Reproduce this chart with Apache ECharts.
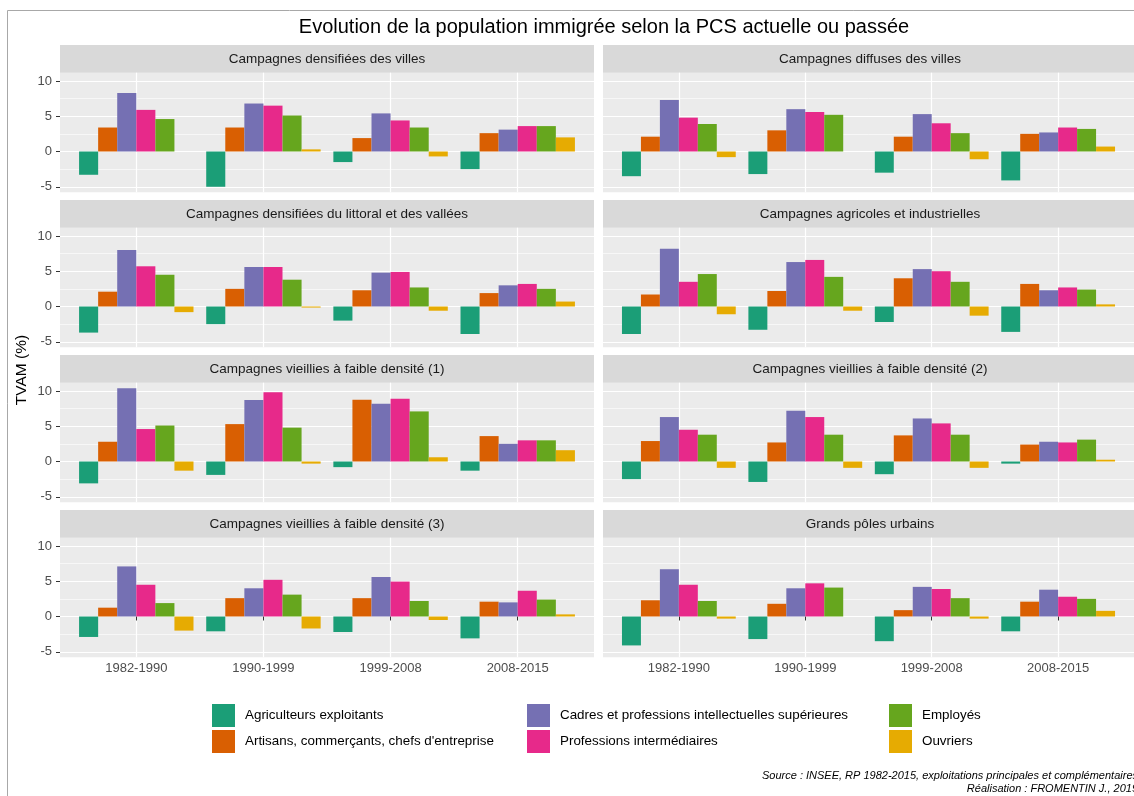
<!DOCTYPE html>
<html><head><meta charset="utf-8">
<script src="https://cdn.jsdelivr.net/npm/echarts@6/dist/echarts.min.js"></script>
<style>html,body{margin:0;padding:0;background:#fff}#c{width:1134px;height:796px}</style>
</head><body><div id="c"></div>
<script>
const periods = ['1982-1990', '1990-1999', '1999-2008', '2008-2015'];
const seriesNames = ['Agriculteurs exploitants', "Artisans, commerçants, chefs d'entreprise", 'Cadres et professions intellectuelles supérieures', 'Professions intermédiaires', 'Employés', 'Ouvriers'];
const colors = ['#1B9E77', '#D95F02', '#7570B3', '#E7298A', '#66A61E', '#E6AB02'];
const panelTitles = ['Campagnes densifiées des villes', 'Campagnes diffuses des villes', 'Campagnes densifiées du littoral et des vallées', 'Campagnes agricoles et industrielles', 'Campagnes vieillies à faible densité (1)', 'Campagnes vieillies à faible densité (2)', 'Campagnes vieillies à faible densité (3)', 'Grands pôles urbains'];
const yTicks = [-5, 0, 5, 10];
const yMinorTicks = [-2.5, 2.5, 7.5];
// each panel: one row per PCS (series order), one value per period
const densifieesVilles = [[-3.3, -5.0, -1.5, -2.5], [3.4, 3.4, 1.9, 2.6], [8.3, 6.8, 5.4, 3.1], [5.9, 6.5, 4.4, 3.6], [4.6, 5.1, 3.4, 3.6], [0.0, 0.3, -0.7, 2.0]];
const diffusesVilles = [[-3.5, -3.2, -3.0, -4.1], [2.1, 3.0, 2.1, 2.5], [7.3, 6.0, 5.3, 2.7], [4.8, 5.6, 4.0, 3.4], [3.9, 5.2, 2.6, 3.2], [-0.8, 0.0, -1.1, 0.7]];
const littoralVallees = [[-3.7, -2.5, -2.0, -3.9], [2.1, 2.5, 2.3, 1.9], [8.0, 5.6, 4.8, 3.0], [5.7, 5.6, 4.9, 3.2], [4.5, 3.8, 2.7, 2.5], [-0.8, -0.15, -0.6, 0.7]];
const agricolesIndustrielles = [[-3.9, -3.3, -2.2, -3.6], [1.7, 2.2, 4.0, 3.2], [8.2, 6.3, 5.3, 2.3], [3.5, 6.6, 5.0, 2.7], [4.6, 4.2, 3.5, 2.4], [-1.1, -0.6, -1.3, 0.3]];
const vieillies1 = [[-3.1, -1.9, -0.8, -1.3], [2.8, 5.3, 8.75, 3.6], [10.4, 8.7, 8.2, 2.5], [4.6, 9.8, 8.9, 3.0], [5.1, 4.8, 7.1, 3.0], [-1.3, -0.3, 0.6, 1.6]];
const vieillies2 = [[-2.5, -2.9, -1.8, -0.3], [2.9, 2.7, 3.7, 2.4], [6.3, 7.2, 6.1, 2.8], [4.5, 6.3, 5.4, 2.7], [3.8, 3.8, 3.8, 3.1], [-0.9, -0.9, -0.9, 0.25]];
const vieillies3 = [[-2.9, -2.1, -2.2, -3.1], [1.25, 2.6, 2.6, 2.1], [7.1, 4.0, 5.6, 2.0], [4.5, 5.2, 4.95, 3.65], [1.9, 3.1, 2.2, 2.4], [-2.0, -1.7, -0.5, 0.3]];
const grandsPoles = [[-4.1, -3.2, -3.5, -2.1], [2.3, 1.8, 0.9, 2.1], [6.7, 4.0, 4.2, 3.8], [4.5, 4.7, 3.9, 2.8], [2.2, 4.1, 2.6, 2.5], [-0.3, 0.0, -0.3, 0.8]];
const panels = [densifieesVilles, diffusesVilles, littoralVallees, agricolesIndustrielles, vieillies1, vieillies2, vieillies3, grandsPoles];

const FONT = '"Liberation Sans", Arial, sans-serif';
const colLeft = [60, 603];
const panelW = 534;
const stripTop0 = 45, rowPitch = 155, stripH = 27.7, plotH = 119.5;
const grids = [], xAxes = [], yAxes = [], series = [], graphics = [];

panels.forEach((pdata, g) => {
  const r = Math.floor(g / 2), c = g % 2;
  const left = colLeft[c];
  const stripTop = stripTop0 + r * rowPitch;
  const top = stripTop + stripH;
  grids.push({left: left, top: top, width: panelW, height: plotH, show: true, backgroundColor: '#EBEBEB', borderWidth: 0, containLabel: false});
  const bottomRow = r === 3, leftCol = c === 0;
  xAxes.push({
    type: 'value', gridIndex: g, min: 0.4, max: 4.6,
    axisLine: {show: false},
    axisTick: {show: bottomRow, customValues: [1, 2, 3, 4], length: 4, lineStyle: {color: '#333333', width: 1}},
    axisLabel: {show: bottomRow, customValues: [1, 2, 3, 4], formatter: v => periods[Math.round(v) - 1], color: '#4D4D4D', fontSize: 13, fontFamily: FONT, margin: 5},
    splitLine: {show: true, lineStyle: {color: '#FFFFFF', width: 1.2}}
  });
  yAxes.push({
    type: 'value', gridIndex: g, min: -5.77, max: 11.17, position: 'left',
    axisLine: {show: false},
    axisTick: {show: leftCol, customValues: yTicks, length: 4, lineStyle: {color: '#333333', width: 1}},
    axisLabel: {show: leftCol, customValues: yTicks, color: '#4D4D4D', fontSize: 13, fontFamily: FONT, margin: 8},
    splitLine: {show: true, lineStyle: {color: '#FFFFFF', width: 1.2}}
  });
  yAxes.push({
    type: 'value', gridIndex: g, min: -5.77, max: 11.17, position: 'right',
    axisLine: {show: false},
    axisTick: {show: false, customValues: yMinorTicks},
    axisLabel: {show: false, customValues: yMinorTicks},
    splitLine: {show: true, lineStyle: {color: '#FFFFFF', width: 0.6}}
  });
  pdata.forEach((vals, s) => {
    series.push({
      type: 'bar', name: seriesNames[s], xAxisIndex: g, yAxisIndex: 2 * g,
      data: vals.map((v, i) => [i + 1, v]),
      barWidth: '15%', barGap: '0%',
      itemStyle: {color: colors[s]},
      emphasis: {disabled: true}
    });
  });
  graphics.push({type: 'rect', shape: {x: left, y: stripTop, width: panelW, height: stripH}, style: {fill: '#D9D9D9'}, silent: true});
  graphics.push({type: 'text', x: left + panelW / 2, y: stripTop + stripH / 2, style: {text: panelTitles[g], fill: '#1A1A1A', font: '13.5px ' + FONT, align: 'center', verticalAlign: 'middle'}, silent: true});
});

graphics.push({type: 'rect', shape: {x: 7.5, y: 10.5, width: 1200, height: 900}, style: {fill: null, stroke: '#A8A8A8', lineWidth: 1}, silent: true, z: -10});
graphics.push({type: 'text', x: 22, y: 370, rotation: Math.PI / 2, style: {text: 'TVAM (%)', fill: '#000000', font: '15.5px ' + FONT, align: 'center', verticalAlign: 'middle'}, silent: true});
graphics.push({type: 'text', x: 1138, y: 776, style: {text: 'Source : INSEE, RP 1982-2015, exploitations principales et complémentaires', fill: '#000000', font: 'italic 11px ' + FONT, align: 'right', verticalAlign: 'middle'}, silent: true});
graphics.push({type: 'text', x: 1138, y: 789, style: {text: 'Réalisation : FROMENTIN J., 2019', fill: '#000000', font: 'italic 11px ' + FONT, align: 'right', verticalAlign: 'middle'}, silent: true});

const legendCols = [[0, 1], [2, 3], [4, 5]];
const legendX = [212, 527, 889];
const legends = legendCols.map((idx, k) => ({
  orient: 'vertical', left: legendX[k], top: 704, itemWidth: 23, itemHeight: 23, itemGap: 3,
  icon: 'rect', selectedMode: false, padding: 0,
  data: idx.map(i => seriesNames[i]),
  textStyle: {fontSize: 13.4, color: '#000000', fontFamily: FONT, padding: [0, 0, 0, 5]}
}));

const chart = echarts.init(document.getElementById('c'), null, {renderer: 'canvas'});
chart.setOption({
  animation: false,
  backgroundColor: '#FFFFFF',
  title: {text: 'Evolution de la population immigrée selon la PCS actuelle ou passée', left: 599, top: 12, textAlign: 'center', textStyle: {fontSize: 20, fontWeight: 'normal', color: '#000000', fontFamily: FONT}},
  legend: legends,
  grid: grids, xAxis: xAxes, yAxis: yAxes, series: series,
  graphic: graphics
});
</script></body></html>
